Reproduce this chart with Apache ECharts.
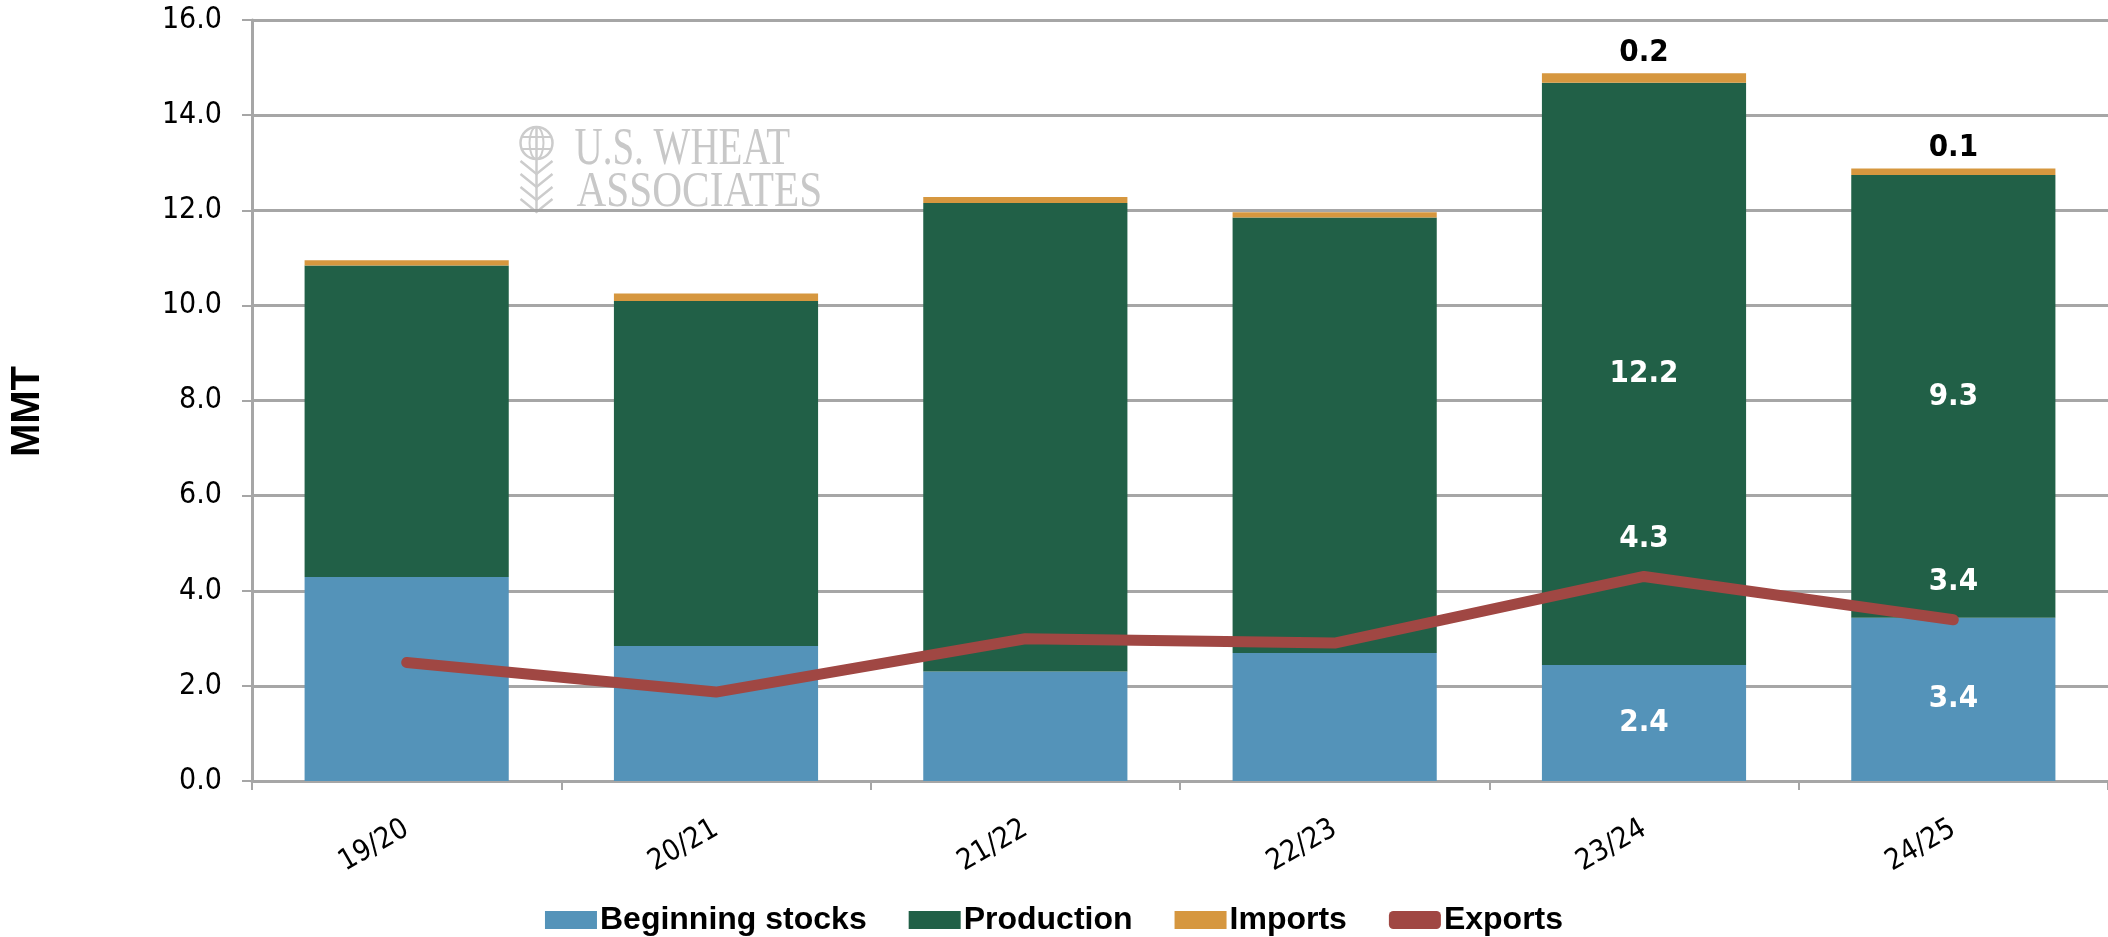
<!DOCTYPE html>
<html>
<head>
<meta charset="utf-8">
<script src="https://cdn.jsdelivr.net/npm/echarts@6/dist/echarts.min.js"></script>
<style>
  html, body { margin: 0; padding: 0; background: #fff; }
  #chart { width: 2108px; height: 937px; }
</style>
</head>
<body>
<div id="chart"></div>
<script>
const categories = ["19/20", "20/21", "21/22", "22/23", "23/24", "24/25"];
const beginningStocks = [4.29, 2.84, 2.30, 2.69, 2.44, 3.43];
const production = [6.55, 7.25, 9.85, 9.16, 12.24, 9.31];
const imports = [0.11, 0.16, 0.13, 0.11, 0.20, 0.14];
const exportsData = [2.49, 1.87, 2.99, 2.90, 4.30, 3.39];
// only the last two marketing years carry value labels
const labeledYears = ["23/24", "24/25"];

const narrow = "'Liberation Sans Narrow', 'DejaVu Sans Condensed', Roboto, sans-serif";
const gridColor = "#a6a6a6";
const markColor = "#cccccc";

const withLabels = (values) =>
  values.map((v, i) => ({
    value: v,
    label: { show: labeledYears.includes(categories[i]) },
  }));

// small leaf pair for the watermark logo
const leaf = (y) => ({
  type: "polyline",
  shape: { points: [[2, y], [18, y + 13], [34, y]] },
  style: { fill: "none", stroke: markColor, lineWidth: 2.5 },
});

const chart = echarts.init(document.getElementById("chart"));

const options = {
  animation: false,
  textStyle: { fontFamily: narrow },
  grid: {
    left: 252,
    right: 0,
    top: 20,
    bottom: 156,
    containLabel: false,
    outerBoundsMode: "none",
  },
  legend: {
    data: [
      { name: "Beginning stocks", icon: "rect" },
      { name: "Production", icon: "rect" },
      { name: "Imports", icon: "rect" },
      { name: "Exports", icon: "roundRect" },
    ],
    left: "center",
    top: 899,
    itemWidth: 52,
    itemHeight: 18,
    itemGap: 42,
    textStyle: {
      fontFamily: "'Liberation Sans', Arial, sans-serif",
      fontWeight: "bold",
      fontSize: 32,
      color: "#000",
      padding: [0, 0, 0, -2],
    },
  },
  graphic: [
    {
      type: "group",
      left: 518,
      top: 124,
      silent: true,
      children: [
        { type: "circle", shape: { cx: 18, cy: 16, r: 16 }, style: { fill: "none", stroke: markColor, lineWidth: 2.5 } },
        { type: "ellipse", shape: { cx: 18, cy: 16, rx: 7, ry: 16 }, style: { fill: "none", stroke: markColor, lineWidth: 2 } },
        { type: "line", shape: { x1: 18, y1: 0, x2: 18, y2: 84 }, style: { stroke: markColor, lineWidth: 2.5 } },
        { type: "line", shape: { x1: 3, y1: 10, x2: 33, y2: 10 }, style: { stroke: markColor, lineWidth: 2 } },
        { type: "line", shape: { x1: 3, y1: 22, x2: 33, y2: 22 }, style: { stroke: markColor, lineWidth: 2 } },
        leaf(34),
        leaf(47),
        leaf(60),
        leaf(72),
        {
          type: "text",
          x: 56,
          y: -3,
          scaleX: 0.75,
          style: { text: "U.S. WHEAT", fill: "#c8c8c8", font: "52px 'Liberation Serif', serif" },
        },
        {
          type: "text",
          x: 58,
          y: 40,
          scaleX: 0.81,
          style: { text: "ASSOCIATES", fill: "#c8c8c8", font: "51px 'Liberation Serif', serif" },
        },
      ],
    },
  ],
  xAxis: {
    type: "category",
    data: categories,
    axisLine: { lineStyle: { color: gridColor, width: 3 } },
    axisTick: { show: true, length: 9, lineStyle: { color: gridColor, width: 2 } },
    axisLabel: {
      rotate: 30,
      margin: 46,
      fontSize: 29,
      color: "#000",
      fontFamily: narrow,
    },
  },
  yAxis: {
    type: "value",
    min: 0,
    max: 16,
    interval: 2,
    name: "MMT",
    nameLocation: "middle",
    nameGap: 204,
    nameRotate: 90,
    nameTextStyle: {
      fontFamily: "'Liberation Sans', Arial, sans-serif",
      fontWeight: "bold",
      fontSize: 40,
      color: "#000",
      padding: [0, 22, 0, 0],
    },
    axisLine: { show: true, lineStyle: { color: gridColor, width: 3 } },
    axisTick: { show: true, length: 10, lineStyle: { color: gridColor, width: 2 } },
    axisLabel: {
      margin: 30,
      fontSize: 30,
      color: "#000",
      fontFamily: narrow,
      formatter: (v) => v.toFixed(1),
    },
    splitLine: { lineStyle: { color: gridColor, width: 3 } },
  },
  series: [
    {
      name: "Beginning stocks",
      type: "bar",
      stack: "supply",
      barWidth: "66%",
      itemStyle: { color: "#5493b9" },
      label: {
        position: "inside",
        color: "#fff",
        fontWeight: "bold",
        fontSize: 31,
        fontFamily: narrow,
        formatter: (p) => p.value.toFixed(1),
      },
      data: withLabels(beginningStocks),
    },
    {
      name: "Production",
      type: "bar",
      stack: "supply",
      itemStyle: { color: "#216047" },
      label: {
        position: "inside",
        color: "#fff",
        fontWeight: "bold",
        fontSize: 31,
        fontFamily: narrow,
        formatter: (p) => p.value.toFixed(1),
      },
      data: withLabels(production),
    },
    {
      name: "Imports",
      type: "bar",
      stack: "supply",
      itemStyle: { color: "#d6973f" },
      label: {
        position: "top",
        distance: 5,
        color: "#000",
        fontWeight: "bold",
        fontSize: 31,
        fontFamily: narrow,
        formatter: (p) => p.value.toFixed(1),
      },
      data: withLabels(imports),
    },
    {
      name: "Exports",
      type: "line",
      symbol: "circle",
      symbolSize: 1,
      showSymbol: true,
      itemStyle: { color: "#a04743" },
      lineStyle: { color: "#a04743", width: 11, cap: "round" },
      label: {
        position: "top",
        distance: 22,
        color: "#fff",
        fontWeight: "bold",
        fontSize: 31,
        fontFamily: narrow,
        formatter: (p) => p.value.toFixed(1),
      },
      data: withLabels(exportsData),
      z: 5,
    },
  ],
};

chart.setOption(options);
</script>
</body>
</html>
